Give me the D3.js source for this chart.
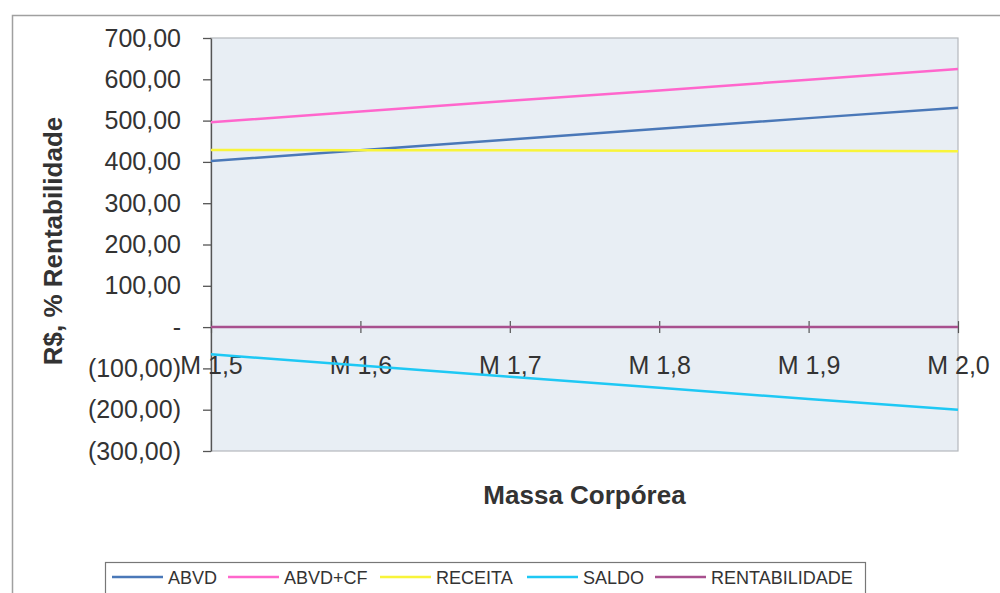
<!DOCTYPE html>
<html>
<head>
<meta charset="utf-8">
<script src="https://cdn.jsdelivr.net/npm/d3@7"></script>
<style>
  body { margin: 0; background: #fff; }
  text { font-family: "Liberation Sans", Arial, sans-serif; fill: #333; }
</style>
</head>
<body>
<div id="chart"></div>
<script>
// data
const categories = ["M 1,5", "M 1,6", "M 1,7", "M 1,8", "M 1,9", "M 2,0"];
const abvd = [402, 428, 454, 480, 506, 531];
const abvdCf = [496, 522, 548, 573, 599, 625];
const receita = [429, 428, 428, 427, 427, 426];
const saldo = [-66, -93, -120, -147, -174, -200];
const rentabilidade = [0, 0, 0, 0, 0, 0];
const yTicks = [700, 600, 500, 400, 300, 200, 100, 0, -100, -200, -300];

const series = [
    {name: "ABVD", values: abvd, color: "#4a78b8"},
    {name: "ABVD+CF", values: abvdCf, color: "#ff66cc"},
    {name: "RECEITA", values: receita, color: "#f8f43a"},
    {name: "SALDO", values: saldo, color: "#1ec8f4"},
    {name: "RENTABILIDADE", values: rentabilidade, color: "#a8508e"}
];

function lineChart() {
    const W = 1000, H = 593;
    const margin = {top: 38, right: 42, bottom: 142, left: 211};
    const width = W - margin.left - margin.right;
    const height = H - margin.top - margin.bottom;

    const root = d3.select("#chart").append("svg")
        .attr("width", W)
        .attr("height", H);

    // outer chart border (right and bottom edges run off the picture)
    root.append("rect")
        .attr("x", 12.5).attr("y", 15.5)
        .attr("width", 1100).attr("height", 700)
        .attr("fill", "none")
        .attr("stroke", "#a0a0a0")
        .attr("stroke-width", 1.5);

    const svg = root.append("g")
        .attr("transform", `translate(${margin.left}, ${margin.top})`);

    const xScale = d3.scalePoint()
        .domain(categories)
        .range([0, width]);

    const yScale = d3.scaleLinear()
        .domain([-300, 700])
        .range([height, 0]);

    // plot area
    svg.append("rect")
        .attr("width", width)
        .attr("height", height)
        .attr("fill", "#e8eef4")
        .attr("stroke", "#b4b8bc")
        .attr("stroke-width", 1.2);

    // y axis
    const fmt = v => {
        if (v === 0) return "-";
        const s = d3.format(".2f")(Math.abs(v)).replace(".", ",");
        return v < 0 ? `(${s})` : s;
    };
    const yAxis = svg.append("g")
        .call(d3.axisLeft(yScale).tickValues(yTicks).tickFormat(fmt).tickSize(8).tickSizeOuter(0).tickPadding(22));
    yAxis.select(".domain").attr("stroke", "#555").attr("stroke-width", 1.3);
    yAxis.selectAll(".tick line").attr("stroke", "#555").attr("stroke-width", 1.3);
    yAxis.selectAll("text")
        .style("font-size", "25px")
        .attr("fill", "#333");

    // x axis crosses at zero, ticks cross the line
    const xAxis = svg.append("g")
        .attr("transform", `translate(0, ${yScale(0)})`)
        .call(d3.axisBottom(xScale).tickSize(0).tickSizeOuter(0).tickPadding(29));
    xAxis.select(".domain").remove();
    xAxis.selectAll(".tick text")
        .style("font-size", "25px")
        .attr("fill", "#333");
    xAxis.selectAll(".tick").append("line")
        .attr("y1", -6).attr("y2", 6)
        .attr("stroke", "#555")
        .attr("stroke-width", 1.2);

    // lines
    const line = d3.line()
        .x((d, i) => xScale(categories[i]))
        .y(d => yScale(d));

    svg.selectAll(".series")
        .data(series)
        .join("path")
        .attr("class", "series")
        .attr("d", d => line(d.values))
        .attr("fill", "none")
        .attr("stroke", d => d.color)
        .attr("stroke-width", 2.5);

    // axis titles
    svg.append("text")
        .attr("x", width / 2)
        .attr("y", height + 53)
        .style("text-anchor", "middle")
        .style("font-size", "26px")
        .style("font-weight", "bold")
        .text("Massa Corpórea");

    root.append("text")
        .attr("transform", "translate(62, 241) rotate(-90)")
        .style("text-anchor", "middle")
        .style("font-size", "26px")
        .style("font-weight", "bold")
        .text("R$, % Rentabilidade");

    // legend
    const legend = root.append("g").attr("transform", "translate(105, 562)");
    legend.append("rect")
        .attr("x", 0.5).attr("y", 0.5)
        .attr("width", 760).attr("height", 40)
        .attr("fill", "#fff")
        .attr("stroke", "#777")
        .attr("stroke-width", 1.2);

    const legendX = [7, 123, 275, 422, 550];
    const items = legend.selectAll(".legendItem")
        .data(series)
        .join("g")
        .attr("class", "legendItem")
        .attr("transform", (d, i) => `translate(${legendX[i]}, 15)`);
    items.append("line")
        .attr("x1", 0).attr("x2", 51)
        .attr("stroke", d => d.color)
        .attr("stroke-width", 2.5);
    items.append("text")
        .attr("x", 56)
        .attr("y", 6.5)
        .style("font-size", "18px")
        .text(d => d.name);
}

function main() {
    lineChart();
}

main();
</script>
</body>
</html>
